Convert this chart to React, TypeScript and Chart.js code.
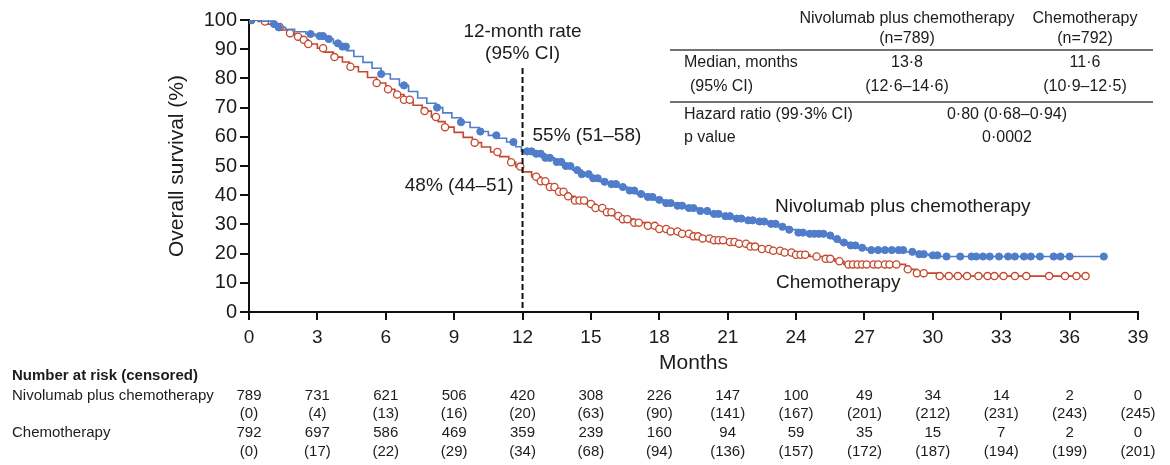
import React, { useEffect, useRef } from 'react';
import { Chart, registerables } from 'chart.js';

Chart.register(...registerables);

const FONT = '"Liberation Sans", Arial, Helvetica, sans-serif';
const BLUE = '#4f7dc9';
const RED = '#c4482f';
const INK = '#1c1c1c';

// axis ticks (months)
const riskMonths = [0, 3, 6, 9, 12, 15, 18, 21, 24, 27, 30, 33, 36, 39];

// number at risk (censored)
const nivoAtRisk = [789, 731, 621, 506, 420, 308, 226, 147, 100, 49, 34, 14, 2, 0];
const nivoCensored = [0, 4, 13, 16, 20, 63, 90, 141, 167, 201, 212, 231, 243, 245];
const chemoAtRisk = [792, 697, 586, 469, 359, 239, 160, 94, 59, 35, 15, 7, 2, 0];
const chemoCensored = [0, 17, 22, 29, 34, 68, 94, 136, 157, 172, 187, 194, 199, 201];

// Kaplan-Meier steps: Nivolumab plus chemotherapy
const nivoTime = [0, 0.5, 1.0, 1.3, 1.6, 2.0, 2.5, 2.9, 3.3, 3.7, 4.0, 4.3, 4.6, 5.0, 5.4, 5.8, 6.2, 6.6, 7.0, 7.4, 7.8, 8.2, 8.5, 8.9, 9.3, 9.7, 10.1, 10.5, 10.9, 11.3, 11.7, 11.95, 12.6, 13.0, 13.4, 13.8, 14.2, 14.6, 15.0, 15.4, 15.8, 16.2, 16.6, 17.0, 17.4, 17.8, 18.2, 18.7, 19.2, 19.7, 20.2, 20.7, 21.2, 21.7, 22.3, 22.8, 23.2, 23.6, 24.0, 24.5, 25.4, 25.6, 25.9, 26.3, 26.7, 27.1, 28.8, 29.3, 29.8, 30.3, 37.5];
const nivoSurv = [100, 99.6, 98.6, 97.5, 96.8, 96.0, 95.2, 94.5, 93.5, 92.0, 90.9, 89.5, 87.5, 85.5, 83.5, 81.5, 79.8, 77.6, 75.5, 73.3, 71.5, 70.0, 68.2, 66.5, 65.0, 63.2, 61.8, 60.5, 59.5, 58.2, 56.6, 55.0, 54.2, 52.8, 51.4, 50.0, 48.6, 47.2, 45.8, 44.6, 43.8, 42.8, 41.6, 40.4, 39.4, 38.4, 37.3, 36.4, 35.6, 34.6, 33.6, 32.8, 32.0, 31.4, 31.0, 30.2, 29.2, 28.2, 27.2, 26.8, 26.2, 25.0, 23.8, 22.8, 22.0, 21.2, 20.6, 19.8, 19.4, 19.0, 19.0];
const nivoCensorTime = [0.1, 1.1, 1.3, 2.7, 3.1, 3.25, 3.5, 3.9, 4.1, 4.25, 5.8, 6.8, 8.25, 9.3, 10.15, 10.85, 11.6, 12.2, 12.4, 12.6, 12.8, 13.0, 13.2, 13.5, 13.7, 13.9, 14.1, 14.4, 14.6, 14.9, 15.1, 15.3, 15.6, 15.9, 16.1, 16.4, 16.7, 16.9, 17.2, 17.5, 17.7, 18.0, 18.3, 18.5, 18.8, 19.0, 19.3, 19.5, 19.8, 20.1, 20.4, 20.6, 20.9, 21.1, 21.4, 21.6, 21.9, 22.1, 22.4, 22.6, 22.9, 23.1, 23.4, 23.7, 24.1, 24.3, 24.6, 24.8, 25.0, 25.2, 25.5, 25.8, 26.1, 26.4, 26.6, 26.9, 27.3, 27.6, 27.9, 28.2, 28.5, 28.7, 29.1, 29.4, 29.6, 30.0, 30.2, 30.6, 31.2, 31.7, 31.9, 32.2, 32.5, 32.9, 33.3, 33.6, 34.0, 34.3, 34.7, 35.3, 35.6, 36.0, 37.5];

// Kaplan-Meier steps: Chemotherapy
const chemoTime = [0, 0.4, 0.8, 1.1, 1.4, 1.7, 2.0, 2.3, 2.6, 3.0, 3.3, 3.7, 4.1, 4.4, 4.8, 5.2, 5.6, 6.0, 6.4, 6.8, 7.2, 7.6, 8.0, 8.3, 8.6, 9.0, 9.4, 9.8, 10.2, 10.6, 11.0, 11.4, 11.7, 12.0, 12.4, 12.8, 13.1, 13.5, 13.9, 14.3, 14.8, 15.2, 15.6, 16.0, 16.4, 16.9, 17.4, 17.9, 18.4, 18.9, 19.4, 19.9, 20.4, 20.9, 21.4, 21.9, 22.4, 22.9, 23.4, 24.0, 24.6, 25.2, 25.7, 26.1, 28.8, 29.3, 30.2, 36.7];
const chemoSurv = [100, 99.5, 98.6, 97.6, 96.6, 95.5, 94.3, 93.2, 91.8, 90.3, 89.0, 87.3, 85.6, 84.0, 82.3, 80.3, 78.4, 76.3, 74.5, 72.7, 70.8, 68.8, 66.8, 65.2, 63.3, 61.5, 59.8, 58.0, 56.5, 54.8, 53.2, 51.3, 49.8, 48.0, 46.3, 44.8, 42.8, 41.2, 39.6, 38.2, 37.0, 35.6, 34.2, 32.9, 31.8, 30.6, 29.5, 28.4, 27.6, 26.8, 25.9, 25.2, 24.6, 24.0, 23.4, 22.4, 21.6, 21.0, 20.4, 19.6, 19.0, 18.2, 17.4, 16.3, 14.6, 13.3, 12.3, 12.3];
const chemoCensorTime = [0.1, 0.7, 1.35, 1.8, 2.15, 2.4, 2.6, 3.25, 3.75, 4.45, 5.6, 6.1, 6.5, 6.8, 7.05, 7.7, 8.2, 8.6, 9.9, 10.9, 11.5, 11.9, 12.6, 12.8, 13.0, 13.2, 13.4, 13.6, 13.8, 14.0, 14.3, 14.5, 14.7, 15.0, 15.2, 15.5, 15.7, 15.9, 16.2, 16.4, 16.6, 16.9, 17.1, 17.5, 17.8, 18.0, 18.3, 18.5, 18.8, 19.0, 19.3, 19.5, 19.7, 19.9, 20.2, 20.4, 20.6, 20.8, 21.1, 21.3, 21.5, 21.8, 22.0, 22.2, 22.5, 22.8, 23.0, 23.3, 23.5, 23.8, 24.0, 24.2, 24.4, 24.9, 25.3, 25.5, 25.9, 26.3, 26.5, 26.7, 26.9, 27.1, 27.4, 27.6, 27.9, 28.1, 28.4, 28.9, 29.3, 29.6, 30.3, 30.7, 31.1, 31.5, 32.0, 32.4, 32.7, 33.1, 33.6, 34.1, 35.1, 35.8, 36.3, 36.7];

function stepPoints(time: number[], surv: number[]) {
  return time.map((t, i) => ({ x: t, y: surv[i] }));
}
function survAt(time: number[], surv: number[], t: number) {
  let v = surv[0];
  for (let i = 0; i < time.length; i++) if (time[i] <= t) v = surv[i];
  return v;
}
function censorPoints(ct: number[], time: number[], surv: number[]) {
  return ct.map((t) => ({ x: t, y: survAt(time, surv, t) }));
}

function txt(ctx: CanvasRenderingContext2D, s: string, x: number, y: number, align: CanvasTextAlign, size: number, bold = false) {
  ctx.font = `${bold ? 'bold ' : ''}${size}px ${FONT}`;
  ctx.textAlign = align;
  ctx.textBaseline = 'middle';
  ctx.fillStyle = INK;
  ctx.fillText(s, x, y);
}

const overlay = {
  id: 'overlay',
  afterDraw(chart: any) {
    const ctx: CanvasRenderingContext2D = chart.ctx;
    const xs = chart.scales.x;
    const ys = chart.scales.y;
    ctx.save();
    // 12-month dashed line
    const x12 = xs.getPixelForValue(12);
    ctx.strokeStyle = '#111';
    ctx.lineWidth = 2;
    ctx.setLineDash([6, 3]);
    ctx.beginPath();
    ctx.moveTo(x12, 68);
    ctx.lineTo(x12, ys.getPixelForValue(0));
    ctx.stroke();
    ctx.setLineDash([]);

    txt(ctx, '12-month rate', x12, 32, 'center', 19);
    txt(ctx, '(95% CI)', x12, 54, 'center', 19);
    txt(ctx, '55% (51–58)', x12 + 10, 136, 'left', 19);
    txt(ctx, '48% (44–51)', x12 - 9, 186, 'right', 19);
    txt(ctx, 'Nivolumab plus chemotherapy', 775, 207, 'left', 19);
    txt(ctx, 'Chemotherapy', 776, 283, 'left', 19);

    // summary table
    const c1 = 907, c2 = 1085, c3 = 1007;
    txt(ctx, 'Nivolumab plus chemotherapy', c1, 19, 'center', 16);
    txt(ctx, '(n=789)', c1, 39, 'center', 16);
    txt(ctx, 'Chemotherapy', c2, 19, 'center', 16);
    txt(ctx, '(n=792)', c2, 39, 'center', 16);
    ctx.strokeStyle = '#444';
    ctx.lineWidth = 1.5;
    ctx.beginPath();
    ctx.moveTo(670, 50); ctx.lineTo(1153, 50);
    ctx.moveTo(670, 102); ctx.lineTo(1153, 102);
    ctx.stroke();
    txt(ctx, 'Median, months', 684, 63, 'left', 16);
    txt(ctx, '13·8', c1, 63, 'center', 16);
    txt(ctx, '11·6', c2, 63, 'center', 16);
    txt(ctx, '(95% CI)', 690, 87, 'left', 16);
    txt(ctx, '(12·6–14·6)', c1, 87, 'center', 16);
    txt(ctx, '(10·9–12·5)', c2, 87, 'center', 16);
    txt(ctx, 'Hazard ratio (99·3% CI)', 684, 115, 'left', 16);
    txt(ctx, '0·80 (0·68–0·94)', c3, 115, 'center', 16);
    txt(ctx, 'p value', 684, 138, 'left', 16);
    txt(ctx, '0·0002', c3, 138, 'center', 16);

    // number at risk table
    txt(ctx, 'Number at risk (censored)', 12, 376, 'left', 15, true);
    txt(ctx, 'Nivolumab plus chemotherapy', 12, 396, 'left', 15);
    txt(ctx, 'Chemotherapy', 12, 433, 'left', 15);
    riskMonths.forEach((m, i) => {
      const px = xs.getPixelForValue(m);
      txt(ctx, String(nivoAtRisk[i]), px, 396, 'center', 15);
      txt(ctx, `(${nivoCensored[i]})`, px, 414, 'center', 15);
      txt(ctx, String(chemoAtRisk[i]), px, 433, 'center', 15);
      txt(ctx, `(${chemoCensored[i]})`, px, 452, 'center', 15);
    });
    ctx.restore();
  },
};

export default function App() {
  const ref = useRef<HTMLCanvasElement | null>(null);
  useEffect(() => {
    if (!ref.current) return;
    const chart = new Chart(ref.current, {
      type: 'line',
      data: {
        datasets: [
          {
            type: 'scatter',
            data: censorPoints(nivoCensorTime, nivoTime, nivoSurv),
            pointRadius: 3.6,
            pointBackgroundColor: BLUE,
            pointBorderColor: BLUE,
            pointBorderWidth: 1,
            showLine: false,
          } as any,
          {
            data: stepPoints(nivoTime, nivoSurv),
            borderColor: BLUE,
            borderWidth: 1.6,
            stepped: 'before',
            pointRadius: 0,
            fill: false,
          },
          {
            type: 'scatter',
            data: censorPoints(chemoCensorTime, chemoTime, chemoSurv),
            pointRadius: 3.6,
            pointBackgroundColor: '#ffffff',
            pointBorderColor: RED,
            pointBorderWidth: 1.3,
            showLine: false,
          } as any,
          {
            data: stepPoints(chemoTime, chemoSurv),
            borderColor: RED,
            borderWidth: 1.6,
            stepped: 'before',
            pointRadius: 0,
            fill: false,
          },
        ],
      },
      options: {
        responsive: false,
        animation: false,
        layout: { padding: { left: 165, right: 32, top: 20, bottom: 89 } },
        plugins: { legend: { display: false }, tooltip: { enabled: false } },
        scales: {
          x: {
            type: 'linear',
            min: 0,
            max: 39,
            afterFit: (s: any) => { s.height = 64; },
            afterBuildTicks: (s: any) => { s.ticks = riskMonths.map((v) => ({ value: v })); },
            grid: { display: true, drawOnChartArea: false, drawTicks: true, tickLength: 8, color: '#111', lineWidth: 2 },
            border: { display: true, color: '#111', width: 2 },
            ticks: { color: INK, font: { family: FONT, size: 19 }, padding: 6, maxRotation: 0, autoSkip: false },
            title: { display: true, text: 'Months', color: INK, font: { family: FONT, size: 21 }, padding: { top: 0, bottom: 0 } },
          },
          y: {
            type: 'linear',
            min: 0,
            max: 100,
            afterFit: (s: any) => { s.width = 84; },
            grid: { display: true, drawOnChartArea: false, drawTicks: true, tickLength: 9, color: '#111', lineWidth: 2 },
            border: { display: true, color: '#111', width: 2 },
            ticks: { stepSize: 10, color: INK, font: { family: FONT, size: 20 }, padding: 3 },
            title: { display: true, text: 'Overall survival (%)', color: INK, font: { family: FONT, size: 21 }, padding: { top: 0, bottom: 0 } },
          },
        },
      },
      plugins: [overlay],
    });
    return () => chart.destroy();
  }, []);
  return (
    <div style={{ position: 'fixed', left: 0, top: 0, width: 1170, height: 465, background: '#fff' }}>
      <canvas ref={ref} width={1170} height={465} />
    </div>
  );
}
